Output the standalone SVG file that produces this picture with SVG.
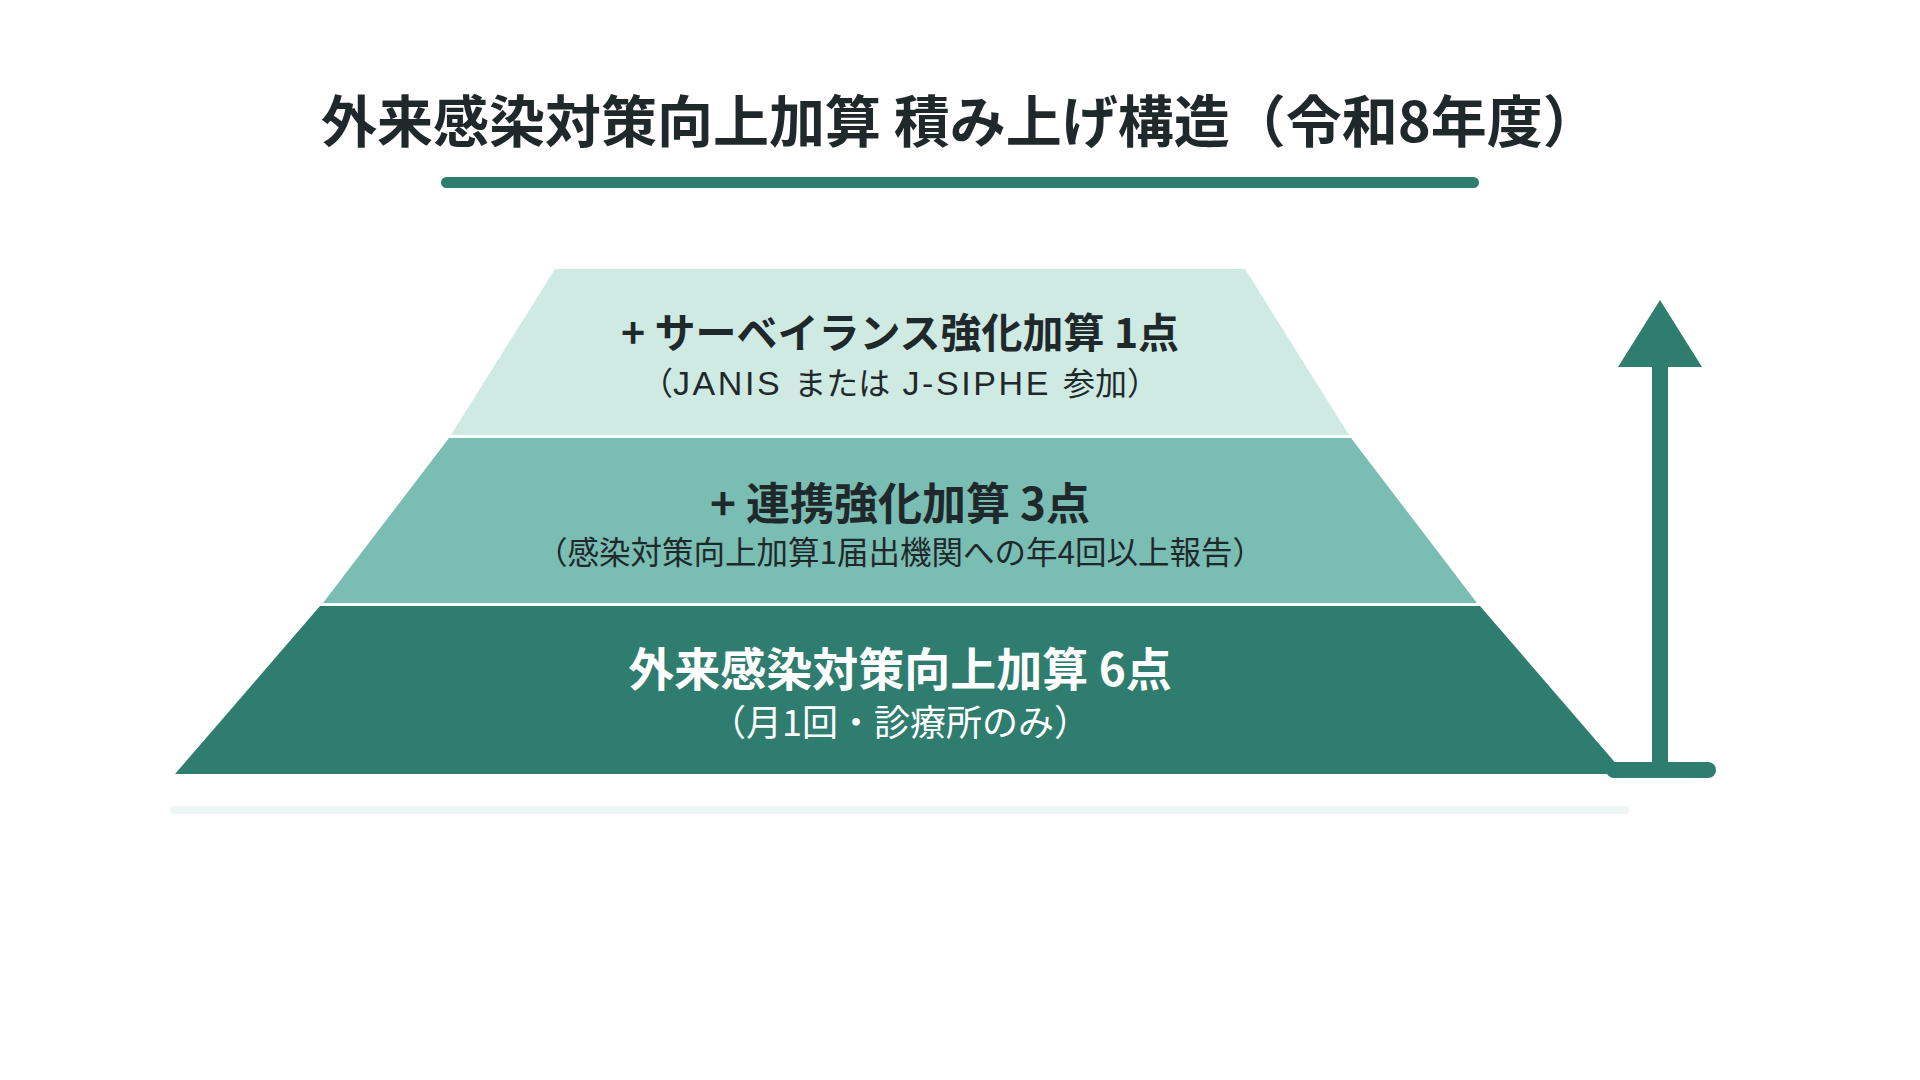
<svg xmlns="http://www.w3.org/2000/svg" width="1920" height="1080" viewBox="0 0 1920 1080">
  <style>
    .jp { font-family: "Noto Sans CJK JP", "Noto Sans", sans-serif; text-anchor: middle; }
    .lat { font-family: "Liberation Sans", "Noto Sans CJK JP", sans-serif; font-size: 34px; letter-spacing: 2.6px; }
    .b { font-weight: 700; }
    .r { font-weight: 400; }
    .dark { fill: #1f292b; }
    .light { fill: #ffffff; }
    .accent { fill: #2e7d6e; }
  </style>
  <rect width="1920" height="1080" fill="#ffffff"/>

  <g id="title">
    <text class="jp b dark" x="960" y="142" font-size="56">外来感染対策向上加算 積み上げ構造（令和8年度）</text>
    <rect class="accent" x="441" y="177" width="1038" height="11" rx="5.5"/>
  </g>

  <g id="baseline">
    <rect x="170" y="806" width="1459" height="8" rx="4" fill="#edf6f4"/>
  </g>

  <g id="tier-bottom">
    <polygon class="accent" points="320,606 1480,606 1625,774 175,774"/>
    <text class="jp b light" x="900" y="686" font-size="46">外来感染対策向上加算 6点</text>
    <text class="jp r light" x="900" y="736" font-size="36">（月1回・診療所のみ）</text>
  </g>

  <g id="tier-middle">
    <polygon points="449,438 1351,438 1477,603 323,603" fill="#7abdb2"/>
    <text class="jp b dark" x="900" y="520" font-size="44">+ 連携強化加算 3点</text>
    <text class="jp r dark" x="900" y="564" font-size="31.5">（感染対策向上加算1届出機関への年4回以上報告）</text>
  </g>

  <g id="tier-top">
    <polygon points="555,269 1245,269 1349,435 451,435" fill="#cfe9e3"/>
    <text class="jp b dark" x="900" y="348" font-size="41">+ サーベイランス強化加算 1点</text>
    <text class="jp r dark" x="900" y="395" font-size="32">（<tspan class="lat">JANIS </tspan>または<tspan class="lat"> J-SIPHE </tspan>参加）</text>
  </g>

  <g id="connectors">
    <rect class="accent" x="1652" y="360" width="16" height="410"/>
    <polygon class="accent" points="1660,300 1702,367 1618,367"/>
    <rect class="accent" x="1606" y="762" width="110" height="16" rx="8"/>
  </g>
</svg>
